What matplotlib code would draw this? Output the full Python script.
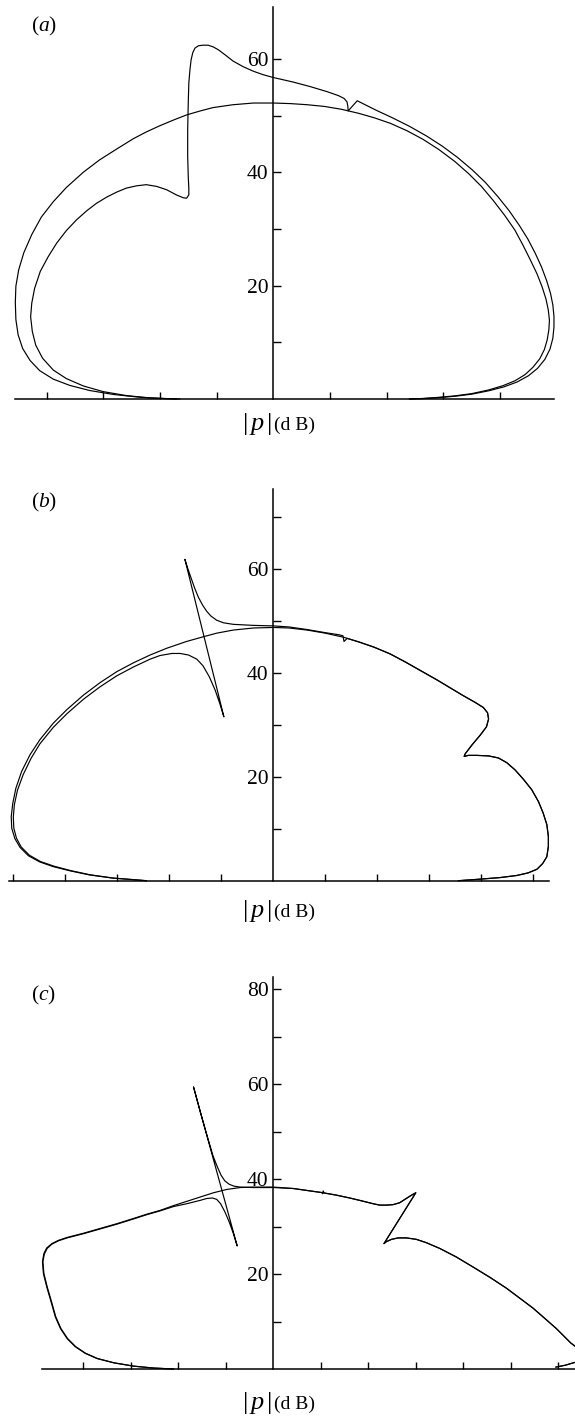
import numpy as np
import matplotlib
matplotlib.use("Agg")
import matplotlib.pyplot as plt

plt.rcParams['font.family'] = ['Liberation Serif', 'DejaVu Serif']
plt.rcParams['mathtext.fontset'] = 'custom'
plt.rcParams['mathtext.rm'] = 'Liberation Serif'
plt.rcParams['mathtext.it'] = 'Liberation Serif:italic'

W, H = 575, 1416

# |p| in dB as (horizontal, vertical) components, traced from theta = 0 to theta = pi
# (a)
a_ring = [
    (24.0, 0.0), (26.5, 0.1), (29.0, 0.28), (32.0, 0.55), (35.0, 0.95), (38.0, 1.6),
    (40.5, 2.35), (42.6, 3.2), (44.4, 4.3), (45.8, 5.6), (47.0, 7.1), (47.8, 8.7),
    (48.3, 10.4), (48.6, 12.2), (48.7, 13.9), (48.5, 15.7), (48.1, 17.6), (47.4, 19.8),
    (46.5, 22.1), (45.3, 24.6), (44.0, 27.2), (42.6, 29.8), (40.8, 32.4), (38.8, 35.0),
    (36.7, 37.5), (34.5, 39.7), (32.0, 41.9), (29.2, 44.0), (26.4, 45.8), (23.6, 47.3),
    (20.7, 48.6), (17.8, 49.6), (15.0, 50.4), (12.0, 51.1), (9.0, 51.6), (6.0, 51.9),
    (3.0, 52.1), (0.0, 52.2), (-3.5, 52.2), (-7.1, 51.9), (-10.6, 51.4), (-12.9, 50.8),
    (-15.3, 50.1), (-17.6, 49.2), (-20.0, 48.2), (-22.4, 47.1), (-24.7, 45.9), (-27.6, 44.1),
    (-30.6, 42.2), (-33.5, 40.0), (-36.5, 37.3), (-38.8, 34.8), (-40.9, 32.1), (-42.6, 29.0),
    (-44.0, 25.8), (-44.9, 22.8), (-45.4, 19.9), (-45.5, 17.0), (-45.4, 14.0), (-45.0, 11.3),
    (-44.2, 8.9), (-42.9, 6.8), (-41.2, 5.0), (-38.8, 3.5), (-35.9, 2.4), (-32.4, 1.5),
    (-28.2, 0.8), (-23.5, 0.3), (-18.8, 0.06), (-16.5, 0.0),
]
a_spike = [
    (24.1, 0.0), (26.5, 0.08), (29.0, 0.22), (32.0, 0.48), (35.0, 0.85), (38.0, 1.45),
    (40.7, 2.15), (43.0, 3.0), (45.0, 4.1), (46.6, 5.4), (47.9, 7.0), (48.8, 8.8),
    (49.3, 10.7), (49.5, 12.7), (49.5, 14.6), (49.3, 16.6), (48.9, 18.6), (48.2, 20.9),
    (47.3, 23.3), (46.2, 25.7), (44.9, 28.2), (43.4, 30.6), (41.6, 33.2), (39.6, 35.7),
    (37.4, 38.2), (35.1, 40.4), (32.5, 42.6), (29.8, 44.6), (27.0, 46.4), (24.0, 48.1),
    (21.0, 49.6), (18.2, 50.9), (16.2, 51.9), (14.8, 52.6), (13.2, 50.8), (13.15, 51.6),
    (13.0, 52.4), (12.5, 53.0), (11.5, 53.5), (9.5, 54.2), (6.5, 55.1), (3.5, 55.9),
    (0.0, 56.7), (-1.8, 57.2), (-3.5, 57.8), (-5.3, 58.6), (-7.1, 59.6), (-8.5, 60.7),
    (-9.7, 61.6), (-10.6, 62.1), (-11.5, 62.4), (-12.4, 62.4), (-13.2, 62.3), (-13.8, 61.9),
    (-14.2, 61.1), (-14.5, 59.8), (-14.7, 58.1), (-14.9, 55.7), (-15.0, 52.2), (-15.1, 47.5),
    (-15.1, 42.8), (-15.0, 39.2), (-14.9, 37.2), (-14.9, 36.0), (-15.3, 35.4), (-15.9, 35.5),
    (-17.1, 36.0), (-18.8, 36.9), (-20.6, 37.5), (-22.4, 37.8), (-24.1, 37.6), (-25.9, 37.2),
    (-27.6, 36.5), (-29.4, 35.6), (-31.2, 34.5), (-32.9, 33.2), (-34.7, 31.6), (-36.5, 29.7),
    (-38.2, 27.5), (-39.7, 25.1), (-41.1, 22.5), (-42.1, 19.5), (-42.6, 16.9), (-42.8, 14.5),
    (-42.5, 11.9), (-41.9, 9.5), (-40.7, 7.2), (-38.8, 5.1), (-36.5, 3.6), (-33.5, 2.3),
    (-30.0, 1.3), (-25.9, 0.6), (-21.8, 0.2), (-17.1, 0.0),
]

# (b)
b_ring = [
    (35.6, 0.0), (39.8, 0.3), (43.6, 0.6), (46.8, 1.0), (49.0, 1.5), (50.7, 2.2),
    (51.8, 3.3), (52.6, 4.6), (52.9, 6.6), (52.9, 8.5), (52.6, 10.8), (51.9, 13.0),
    (51.0, 15.2), (49.7, 17.5), (48.1, 19.5), (46.5, 21.3), (44.9, 22.7), (43.3, 23.6),
    (41.4, 24.0), (39.1, 24.1), (37.5, 24.1), (36.7, 23.9), (36.9, 24.4), (38.2, 26.1),
    (39.8, 28.0), (41.0, 29.6), (41.4, 31.1), (41.2, 32.3), (40.4, 33.3), (38.8, 34.3),
    (36.5, 35.6), (34.0, 37.1), (31.5, 38.6), (28.5, 40.3), (25.5, 42.0), (22.5, 43.6),
    (19.4, 44.9), (16.5, 45.9), (13.6, 46.8), (10.0, 47.6), (6.5, 48.2), (3.0, 48.6),
    (0.0, 48.7), (-3.8, 48.6), (-7.7, 48.2), (-10.9, 47.6), (-13.5, 46.9), (-16.7, 46.0),
    (-20.5, 44.7), (-23.7, 43.4), (-26.9, 41.9), (-30.1, 40.2), (-33.3, 38.1), (-36.5, 35.7),
    (-39.7, 32.9), (-42.3, 30.3), (-44.9, 27.1), (-46.8, 24.2), (-48.4, 21.0), (-49.5, 17.8),
    (-50.1, 14.9), (-50.4, 12.3), (-50.3, 10.1), (-49.7, 8.1), (-48.7, 6.4), (-47.1, 4.8),
    (-44.9, 3.6), (-42.3, 2.7), (-39.1, 1.9), (-35.3, 1.1), (-30.8, 0.5), (-26.9, 0.2),
    (-24.4, 0.0),
]
b_jump = [
    (35.6, 0.0), (39.8, 0.3), (43.6, 0.6), (46.8, 1.0), (49.0, 1.5), (50.7, 2.2),
    (51.8, 3.3), (52.6, 4.6), (52.9, 6.6), (52.9, 8.5), (52.6, 10.8), (51.9, 13.0),
    (51.0, 15.2), (49.7, 17.5), (48.1, 19.5), (46.5, 21.3), (44.9, 22.7), (43.3, 23.6),
    (41.4, 24.0), (39.1, 24.1), (37.5, 24.1), (36.7, 23.9), (36.9, 24.4), (38.2, 26.1),
    (39.8, 28.0), (41.0, 29.6), (41.4, 31.1), (41.2, 32.3), (40.4, 33.3), (38.8, 34.3),
    (36.5, 35.6), (34.0, 37.1), (31.5, 38.6), (28.5, 40.3), (25.5, 42.0), (22.5, 43.6),
    (19.4, 44.9), (16.5, 45.9), (14.2, 46.6), (13.6, 46.0), (13.4, 47.1), (12.6, 47.3),
    (10.0, 47.7), (6.5, 48.3), (3.0, 48.8), (0.0, 49.0), (-3.8, 49.1), (-7.7, 49.3),
    (-9.6, 49.6), (-10.9, 50.1), (-12.0, 50.9), (-12.8, 51.8), (-13.6, 53.0), (-14.4, 54.5),
    (-15.1, 56.2), (-15.7, 57.9), (-16.4, 59.9), (-17.0, 61.8), (-9.5, 31.5), (-10.3, 34.1),
    (-11.2, 36.7), (-12.3, 39.2), (-13.5, 41.3), (-14.7, 42.6), (-16.3, 43.4), (-17.9, 43.7),
    (-19.5, 43.7), (-21.8, 43.3), (-23.7, 42.6), (-26.9, 41.1), (-30.1, 39.4), (-33.3, 37.3),
    (-36.5, 34.9), (-39.7, 32.1), (-42.3, 29.5), (-44.9, 26.3), (-46.6, 23.5), (-48.1, 20.4),
    (-49.2, 17.4), (-49.8, 14.6), (-50.0, 12.2), (-49.9, 10.1), (-49.4, 8.2), (-48.5, 6.5),
    (-46.9, 4.9), (-44.8, 3.7), (-42.2, 2.8), (-39.0, 1.95), (-35.3, 1.15), (-30.8, 0.5),
    (-26.9, 0.2), (-24.4, 0.0),
]

# (c)
c_ring = [
    (59.5, 0.4), (61.5, 0.8), (63.5, 1.4), (65.2, 2.2), (65.8, 3.0), (65.2, 3.7),
    (63.9, 4.5), (62.6, 5.5), (61.3, 6.8), (59.6, 8.5), (57.1, 10.7), (54.7, 12.8),
    (51.9, 14.9), (49.1, 17.0), (45.6, 19.3), (42.0, 21.5), (38.5, 23.6), (35.0, 25.4),
    (32.2, 26.6), (30.1, 27.3), (28.0, 27.6), (26.3, 27.6), (24.9, 27.3), (23.8, 26.8),
    (23.3, 26.4), (30.0, 37.1), (29.1, 36.6), (28.0, 35.9), (26.6, 35.0), (25.2, 34.6),
    (23.8, 34.5), (22.4, 34.5), (21.0, 34.8), (18.6, 35.4), (16.1, 36.0), (13.3, 36.6),
    (10.7, 37.05), (10.5, 37.5), (10.4, 36.9), (10.2, 37.15), (7.7, 37.5), (4.2, 38.0),
    (0.0, 38.3), (-4.2, 38.3), (-7.0, 38.2), (-9.8, 37.8), (-12.6, 37.1), (-15.4, 36.2),
    (-18.2, 35.3), (-21.0, 34.4), (-23.8, 33.4), (-26.6, 32.6), (-29.4, 31.7), (-32.9, 30.6),
    (-36.4, 29.6), (-39.9, 28.6), (-43.4, 27.7), (-45.2, 27.1), (-46.6, 26.4), (-47.7, 25.5),
    (-48.3, 24.3), (-48.6, 22.6), (-48.4, 20.1), (-47.7, 17.3), (-46.8, 14.2), (-45.9, 11.0),
    (-44.8, 8.5), (-43.4, 6.4), (-41.7, 4.7), (-39.6, 3.3), (-37.1, 2.2), (-33.6, 1.3),
    (-29.4, 0.6), (-25.2, 0.2), (-21.0, 0.0),
]
c_jump = [
    (59.5, 0.4), (61.5, 0.8), (63.5, 1.4), (65.2, 2.2), (65.8, 3.0), (65.2, 3.7),
    (63.9, 4.5), (62.6, 5.5), (61.3, 6.8), (59.6, 8.5), (57.1, 10.7), (54.7, 12.8),
    (51.9, 14.9), (49.1, 17.0), (45.6, 19.3), (42.0, 21.5), (38.5, 23.6), (35.0, 25.4),
    (32.2, 26.6), (30.1, 27.3), (28.0, 27.6), (26.3, 27.6), (24.9, 27.3), (23.8, 26.8),
    (23.3, 26.4), (30.0, 37.1), (29.1, 36.6), (28.0, 35.9), (26.6, 35.0), (25.2, 34.6),
    (23.8, 34.5), (22.4, 34.5), (21.0, 34.8), (18.6, 35.4), (16.1, 36.0), (13.3, 36.6),
    (10.5, 37.1), (7.7, 37.5), (4.2, 38.0), (0.0, 38.2), (-4.2, 38.2), (-7.0, 38.3),
    (-8.3, 38.5), (-9.3, 38.9), (-10.2, 39.6), (-11.0, 40.8), (-11.8, 42.6), (-12.7, 44.9),
    (-14.0, 49.3), (-15.4, 54.2), (-16.8, 59.4), (-7.6, 25.9), (-8.4, 28.5), (-9.3, 31.0),
    (-10.2, 33.1), (-11.1, 34.8), (-11.9, 35.7), (-12.8, 36.0), (-14.0, 35.9), (-15.4, 35.5),
    (-18.2, 34.8), (-21.0, 34.2), (-23.8, 33.3), (-26.6, 32.5), (-29.4, 31.6), (-32.9, 30.5),
    (-36.4, 29.5), (-39.9, 28.5), (-43.4, 27.6), (-45.2, 27.0), (-46.6, 26.3), (-47.6, 25.4),
    (-48.2, 24.2), (-48.5, 22.6), (-48.3, 20.1), (-47.6, 17.3), (-46.7, 14.2), (-45.8, 11.0),
    (-44.7, 8.5), (-43.3, 6.4), (-41.6, 4.7), (-39.5, 3.3), (-37.0, 2.2), (-33.5, 1.3),
    (-29.4, 0.6), (-25.2, 0.2), (-21.0, 0.0),
]

panels = [
    dict(tag='a', curves=[a_ring, a_spike],
         origin=(273.3, 399.0), scale=5.67, xb=(-45.6, 49.5), ytop=69.1,
         yticks=[20, 40, 60], yminor=[10, 30, 50], xticks=[-40, -30, -20, -10, 10, 20, 30, 40],
         label_y=424, tag_y=26),
    dict(tag='b', curves=[b_ring, b_jump],
         origin=(273.3, 880.7), scale=5.2, xb=(-50.8, 53.0), ytop=75.3,
         yticks=[20, 40, 60], yminor=[10, 30, 50, 70],
         xticks=[-50, -40, -30, -20, -10, 10, 20, 30, 40, 50],
         label_y=911, tag_y=502),
    dict(tag='c', curves=[c_ring, c_jump],
         origin=(273.3, 1369.0), scale=4.75, xb=(-48.7, 68.0), ytop=82.6,
         yticks=[20, 40, 60, 80], yminor=[10, 30, 50, 70],
         xticks=[-40, -30, -20, -10, 10, 20, 30, 40, 50, 60],
         label_y=1403, tag_y=995),
]

fig = plt.figure(figsize=(W / 100, H / 100), dpi=100)

for p in panels:
    ox, oy = p['origin']
    s = p['scale']
    xlim = (p['xb'][0] - 3, p['xb'][1] + 3)
    ylim = (-3, p['ytop'] + 2)
    left = ox + xlim[0] * s
    top = oy - ylim[1] * s
    wpx = (xlim[1] - xlim[0]) * s
    hpx = (ylim[1] - ylim[0]) * s
    ax = fig.add_axes([left / W, 1 - (top + hpx) / H, wpx / W, hpx / H])
    ax.set_xlim(*xlim)
    ax.set_ylim(*ylim)
    ax.patch.set_visible(False)

    for pts in p['curves']:
        pts = np.array(pts)
        ax.plot(pts[:, 0], pts[:, 1], color='black', lw=0.85, solid_joinstyle='round')

    for side in ('top', 'right'):
        ax.spines[side].set_visible(False)
    ax.spines['left'].set_position(('data', 0))
    ax.spines['bottom'].set_position(('data', 0))
    ax.spines['left'].set_bounds(0, p['ytop'])
    ax.spines['bottom'].set_bounds(*p['xb'])
    for side in ('left', 'bottom'):
        ax.spines[side].set_linewidth(1.1)

    ax.set_xticks(p['xticks'])
    ax.set_xticklabels([])
    ax.set_yticks(p['yticks'])
    ax.set_yticks(p['yminor'], minor=True)
    ax.set_yticklabels([str(v) for v in p['yticks']])
    ax.tick_params(axis='x', direction='in', length=5, width=1.0)
    ax.tick_params(axis='y', which='both', direction='in', length=5.5, width=1.0,
                   labelsize=15.5, pad=3.5)

    ly = (oy - p['label_y']) / s
    ax.text(-0.2, ly, r'$|\,p\,|$', ha='right', va='center', fontsize=19, clip_on=False)
    ax.text(0.2, ly - 0.3, '(d B)', ha='left', va='center', fontsize=14, clip_on=False)

    fig.text(31 / W, 1 - p['tag_y'] / H, '$(%s)$' % p['tag'], ha='left', va='center',
             fontsize=15.5)

fig.savefig('out.png', dpi=100)
